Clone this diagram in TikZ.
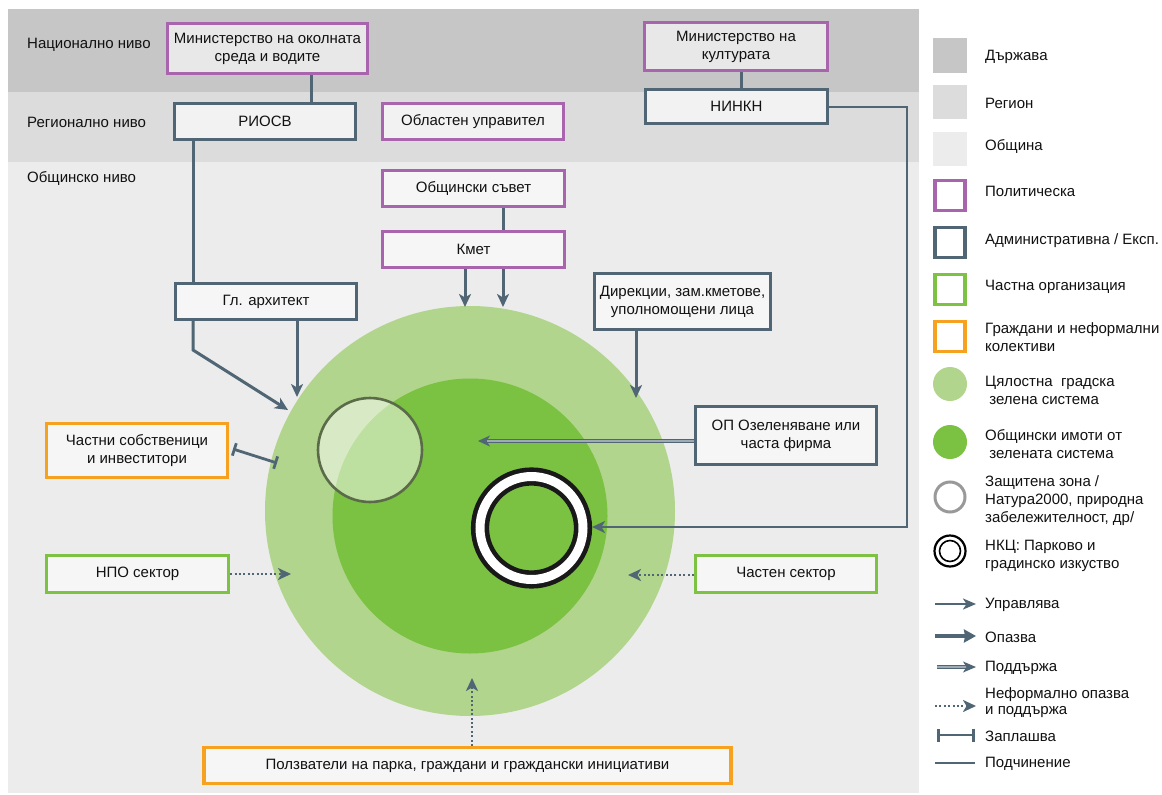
\documentclass[tikz,border=0pt]{standalone}
\usepackage{fontspec}
\setmainfont{Liberation Sans}
\usetikzlibrary{arrows.meta,calc}
\definecolor{bandA}{HTML}{C6C6C6}
\definecolor{bandB}{HTML}{DCDCDC}
\definecolor{bandC}{HTML}{ECECEC}
\definecolor{slate}{HTML}{506675}
\definecolor{purp}{HTML}{A865AE}
\definecolor{grn}{HTML}{7DC242}
\definecolor{org}{HTML}{F6A11F}
\definecolor{lgreen}{HTML}{B1D58C}
\definecolor{dgreen}{HTML}{7BC142}
\definecolor{zone}{HTML}{5B6B4A}
\definecolor{txt}{HTML}{111111}
\tikzset{
  box/.style={line width=3.2pt, inner sep=0pt, align=center, text=txt},
  polbox/.style={box, draw=purp},
  admbox/.style={box, draw=slate},
  prvbox/.style={box, draw=grn},
  citbox/.style={box, draw=org},
  fnat/.style={fill=white!60!bandA},
  freg/.style={fill=white!30!bandC},
  fmun/.style={fill=white!55!bandC},
  tip/.style={-{Stealth[length=13pt,width=12pt,inset=3.5pt]}},
  manage/.style={draw=slate, line width=3pt, tip},
  protect/.style={draw=slate, line width=2.4pt, tip},
  informal/.style={draw=slate, line width=2.6pt, dash pattern=on 2pt off 2.4pt, tip},
  subord/.style={draw=slate, line width=3pt},
  threat/.style={draw=slate, line width=2.8pt, {Bar[width=13pt,line width=2.8pt]}-{Bar[width=13pt,line width=2.8pt]}},
  lvl/.style={anchor=west, text=txt, inner sep=0pt},
  leg/.style={anchor=west, text=txt, inner sep=0pt, align=left},
}
\begin{document}
\begin{tikzpicture}[x=1pt,y=-1pt,font=\fontsize{15}{18}\selectfont]
\useasboundingbox (0,0) rectangle (1162,795);
\fill[white] (0,0) rectangle (1162,795);
% bands
\fill[bandC] (8,162) rectangle (919,793);
\fill[bandB] (8,92) rectangle (919,162);
\fill[bandA] (8,9) rectangle (919,92);
\node[lvl] (lnat) at (27,45) {Национално ниво};
\node[lvl] (lreg) at (27,122) {Регионално ниво};
\node[lvl] (lmun) at (27,178) {Общинско ниво};

% circles
\fill[lgreen] (470,511) circle[radius=205pt];
\fill[dgreen] (470,516) circle[radius=137.5pt];
\draw[zone, line width=2.6pt, fill=white, fill opacity=0.5] (370,450) circle[radius=52pt];
\node[circle, draw=black!90, double=white, double distance=9pt, line width=4.6pt, minimum size=103pt, inner sep=0pt, outer sep=9pt] (ring) at (531.5,528) {};

% boxes
\node[polbox, fnat, minimum width=200pt, minimum height=50pt] (minenv) at (267.5,48.5) {Министерство на околната\\среда и водите};
\node[admbox, freg, minimum width=181pt, minimum height=36pt] (riosv) at (265,121.5) {РИОСВ};
\node[polbox, freg, minimum width=181pt, minimum height=36pt] (obl) at (473,121.5) {Областен управител};
\node[polbox, fnat, minimum width=183pt, minimum height=48pt] (mincult) at (736,46.5) {Министерство на\\културата};
\node[admbox, freg, minimum width=182pt, minimum height=34pt] (ninkn) at (736.5,106.5) {НИНКН};
\node[polbox, fmun, minimum width=182pt, minimum height=36pt] (obs) at (473.5,188.5) {Общински съвет};
\node[polbox, fmun, minimum width=182pt, minimum height=36pt] (kmet) at (473.5,249.5) {Кмет};
\node[admbox, fmun, minimum width=181pt, minimum height=36pt] (arch) at (266,301.5) {Гл. архитект};
\node[admbox, fmun, minimum width=176pt, minimum height=56pt] (dir) at (682.5,301.5) {Дирекции, зам.кметове,\\уполномощени лица};
\node[admbox, fmun, minimum width=181pt, minimum height=58pt] (op) at (786,435.5) {ОП Озеленяване или\\часта фирма};
\node[citbox, fmun, minimum width=181pt, minimum height=54pt] (priv) at (137,450.5) {Частни собственици\\и инвеститори};
\node[prvbox, fmun, minimum width=182pt, minimum height=37pt] (npo) at (137.5,574) {НПО сектор};
\node[prvbox, fmun, minimum width=181pt, minimum height=37pt] (chs) at (786,574) {Частен сектор};
\node[citbox, fmun, minimum width=527pt, minimum height=36pt] (users) at (467.5,765.5) {Ползватели на парка, граждани и граждански инициативи};

% connector end points
\coordinate (kA) at (465,307);
\coordinate (kB) at (503,307);
\coordinate (aA) at (288,410);
\coordinate (aB) at (297,397);
\coordinate (dA) at (636,398);
\coordinate (opE) at (478,441);
\coordinate (thE) at (277,463);
\coordinate (thS) at (233,449);
\coordinate (npoE) at (291,574);
\coordinate (chsE) at (628,575);
\coordinate (usE) at (472,678);

% connectors
\draw[subord] (minenv.south -| 311,0) -- (riosv.north -| 311,0);
\draw[subord] (mincult.south -| 741,0) -- (ninkn.north -| 741,0);
\draw[subord] (obs.south -| 503,0) -- (kmet.north -| 503,0);
\draw[subord] (riosv.south -| 193,0) -- (arch.north -| 193,0);
\draw[protect] (ninkn.east |- 0,107) -- (907,107) -- (907,527) -- (ring.east |- 0,527);
\draw[manage] (kmet.south -| kA) -- (kA);
\draw[manage] (kmet.south -| kB) -- (kB);
\draw[manage] (arch.south -| 193,0) -- (193,350) -- (aA);
\draw[manage] (arch.south -| aB) -- (aB);
\draw[manage] (dir.south -| dA) -- (dA);
\draw[slate, line width=1.1pt, double=slate!55!white, double distance=1.5pt] (op.west |- opE) -- ($(opE)+(8,0)$);
\draw[slate, line width=1.5pt, -{Stealth[length=12pt,width=11pt,inset=3.5pt]}] ($(opE)+(9,0)$) -- (opE);
\draw[threat] (thS) -- (thE);
\draw[informal] (npo.east) -- (npoE);
\draw[informal] (chs.west |- chsE) -- (chsE);
\draw[informal] (users.north -| usE) -- (usE);

% legend
\fill[bandA] (933,38) rectangle (967,73);
\fill[bandB] (933,85) rectangle (967,119);
\fill[bandC] (933,132) rectangle (967,166);
\node[leg] (t1) at (985,57) {Държава};
\node[leg] (t2) at (985,103) {Регион};
\node[leg] (t3) at (985,146) {Община};
\node[polbox, fill=white, minimum size=30pt] (s4) at (950,195.5) {};
\node[leg] (t4) at (985,191) {Политическа};
\node[admbox, fill=white, minimum size=30pt] (s5) at (950,242.5) {};
\node[leg] (t5) at (985,241) {Административна / Експ.};
\node[prvbox, fill=white, minimum size=30pt] (s6) at (950,289.5) {};
\node[leg] (t6) at (985,287) {Частна организация};
\node[citbox, fill=white, minimum size=30pt] (s7) at (950,336.5) {};
\node[leg] (t7) at (985,337) {Граждани и неформални\\колективи};
\fill[lgreen] (950,384) circle[radius=17pt];
\node[leg] (t8) at (985,390.5) {Цялостна\ \ градска\\\ зелена система};
\fill[dgreen] (950,442) circle[radius=17pt];
\node[leg] (t9) at (985,444) {Общински имоти от\\\ зелената система};
\draw[gray!80, line width=3pt] (950,497) circle[radius=15pt];
\node[leg] (t10) at (985,500.5) {Защитена зона /\\Натура2000, природна\\забележителност, др/};
\draw[black, line width=2.2pt] (950,551) circle[radius=15.5pt];
\draw[black, line width=1.6pt] (950,551) circle[radius=10.5pt];
\node[leg] (t11) at (985,555.5) {НКЦ: Парково и\\градинско изкуство};

\coordinate (l1a) at (935,604); \coordinate (l1b) at (976,604);
\draw[slate, line width=2.2pt, -{Stealth[length=13pt,width=11pt,inset=3.5pt]}] (l1a) -- (l1b);
\node[leg] (t12) at (985,605) {Управлява};
\coordinate (l2a) at (935,636); \coordinate (l2b) at (976,636);
\draw[slate, line width=3.2pt, -{Stealth[length=12pt,width=13pt,inset=1pt]}] (l2a) -- (l2b);
\node[leg] (t13) at (985,637) {Опазва};
\coordinate (l3a) at (937,667); \coordinate (l3b) at (976,667);
\draw[slate, line width=1.1pt, double=slate!55!white, double distance=1.5pt] (l3a) -- ($(l3b)+(-8,0)$);
\draw[slate, line width=1.5pt, -{Stealth[length=13pt,width=11pt,inset=3.5pt]}] ($(l3b)+(-9,0)$) -- (l3b);
\node[leg] (t14) at (985,668) {Поддържа};
\coordinate (l4a) at (935,706); \coordinate (l4b) at (976,706);
\draw[informal] (l4a) -- (l4b);
\node[leg, font=\fontsize{15}{15.5}\selectfont] (t15) at (985,702.5) {Неформално опазва\\и поддържа};
\coordinate (l5a) at (937,735); \coordinate (l5b) at (975,735);
\draw[threat] (l5a) -- (l5b);
\node[leg] (t16) at (985,736) {Заплашва};
\coordinate (l6a) at (935,763); \coordinate (l6b) at (975,763);
\draw[subord, line width=2.4pt] (l6a) -- (l6b);
\node[leg] (t17) at (985,764) {Подчинение};
\end{tikzpicture}
\end{document}
